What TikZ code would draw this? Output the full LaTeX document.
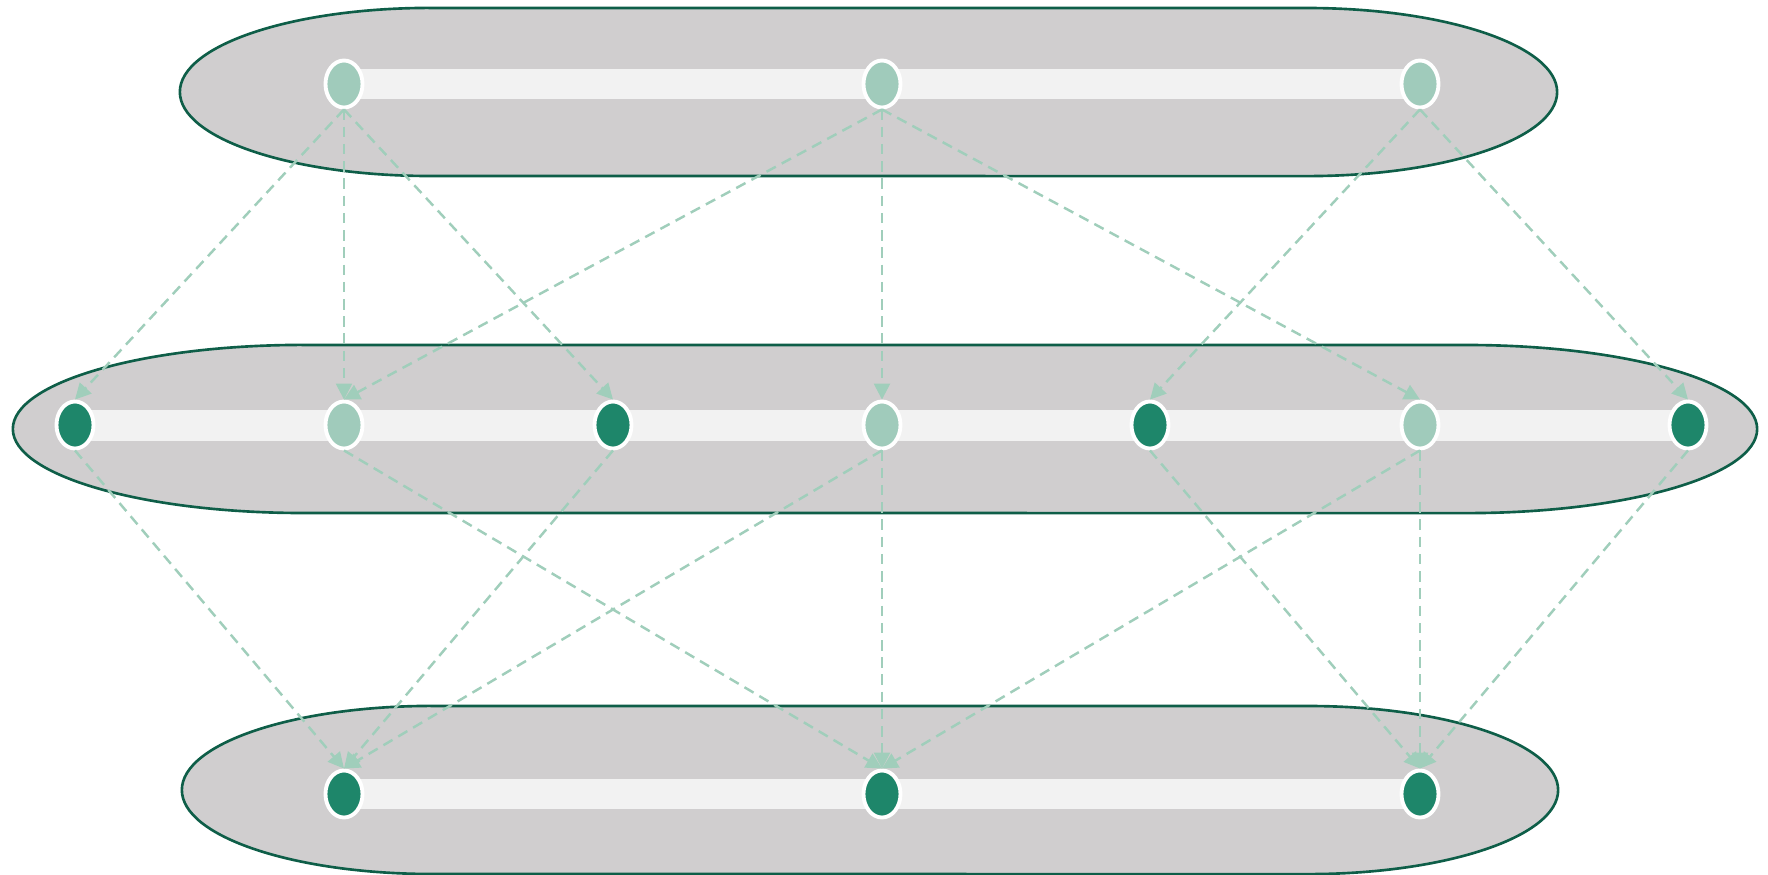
\documentclass[tikz,border=0pt]{standalone}
\usetikzlibrary{shapes.geometric,arrows.meta}
\definecolor{bandfill}{HTML}{D0CECF}
\definecolor{bandline}{HTML}{0E5E48}
\definecolor{barfill}{HTML}{F2F2F2}
\definecolor{lightnode}{HTML}{A0CBBB}
\definecolor{darknode}{HTML}{1E866A}
\definecolor{edgecol}{HTML}{A0CEBB}
\tikzset{
  band/.style={fill=bandfill,draw=bandline,line width=0.75pt},
  bar/.style={fill=barfill,draw=none},
  dot/.style={ellipse,draw=white,line width=1.1pt,minimum width=0.37cm,minimum height=0.47cm,inner sep=0pt},
  litedot/.style={dot,fill=lightnode},
  darkdot/.style={dot,fill=darknode},
  link/.style={draw=edgecol,line width=0.7pt,dash pattern=on 3pt off 1.9pt,-{Triangle[length=4.5pt,width=4.5pt]}}
}
\begin{document}
\begin{tikzpicture}[x=0.01cm,y=-0.01cm]
\useasboundingbox (0,0) rectangle (1768,875);
% bands
\path[band] (430,8) -- (1307,8) arc[start angle=90,end angle=-90,x radius=2.5cm,y radius=0.84cm]
  -- (430,176) arc[start angle=270,end angle=90,x radius=2.5cm,y radius=0.84cm] -- cycle;
\path[band] (303,345) -- (1467,345) arc[start angle=90,end angle=-90,x radius=2.9cm,y radius=0.84cm]
  -- (303,513) arc[start angle=270,end angle=90,x radius=2.9cm,y radius=0.84cm] -- cycle;
\path[band] (432,706) -- (1308,706) arc[start angle=90,end angle=-90,x radius=2.5cm,y radius=0.84cm]
  -- (432,874) arc[start angle=270,end angle=90,x radius=2.5cm,y radius=0.84cm] -- cycle;
% bars
\path[bar] (344,69) rectangle (1420,99);
\path[bar] (75,410) rectangle (1688,441);
\path[bar] (344,779) rectangle (1420,809);
% nodes
\node[litedot] (t1) at (344,84) {};
\node[litedot] (t2) at (882,84) {};
\node[litedot] (t3) at (1420,84) {};
\node[darkdot] (m1) at (75,425) {};
\node[litedot] (m2) at (344,425) {};
\node[darkdot] (m3) at (613,425) {};
\node[litedot] (m4) at (882,425) {};
\node[darkdot] (m5) at (1150,425) {};
\node[litedot] (m6) at (1420,425) {};
\node[darkdot] (m7) at (1688,425) {};
\node[darkdot] (b1) at (344,794) {};
\node[darkdot] (b2) at (882,794) {};
\node[darkdot] (b3) at (1420,794) {};
% links top -> middle
\foreach \s/\t in {t1/m1,t1/m2,t1/m3,t2/m2,t2/m4,t2/m6,t3/m5,t3/m7}
  \path[link] (\s.south) -- (\t.north);
% links middle -> bottom
\foreach \s/\t in {m1/b1,m2/b2,m3/b1,m4/b1,m4/b2,m5/b3,m6/b2,m6/b3,m7/b3}
  \path[link] (\s.south) -- (\t.north);
\end{tikzpicture}
\end{document}
